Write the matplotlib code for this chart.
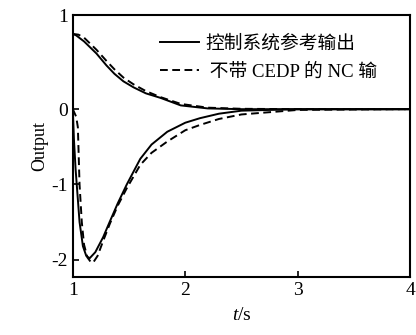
import numpy as np
import matplotlib.pyplot as plt

plt.rcParams['font.family'] = ['Liberation Serif', 'Noto Sans CJK SC']
plt.rcParams['mathtext.fontset'] = 'custom'
plt.rcParams['mathtext.it'] = 'Liberation Serif:italic'
plt.rcParams['mathtext.rm'] = 'Liberation Serif'

# upper curves (decay from 1)
t_up_ref = [1, 1.03, 1.1, 1.21, 1.3, 1.37, 1.45, 1.54, 1.65, 1.78, 1.96, 2.2, 2.5, 3, 4]
ref_up = [1.0, 0.98, 0.9, 0.74, 0.58, 0.47, 0.37, 0.29, 0.21, 0.15, 0.05, 0.01, 0, 0, 0]
t_up_nc = [1, 1.05, 1.1, 1.21, 1.3, 1.37, 1.45, 1.54, 1.65, 1.78, 1.96, 2.2, 2.5, 3, 4]
nc_up = [1.0, 0.99, 0.95, 0.79, 0.64, 0.53, 0.42, 0.33, 0.24, 0.16, 0.07, 0.02, 0.005, 0, 0]

# lower curves (undershoot to -2)
t_lo_ref = [1, 1.01, 1.025, 1.035, 1.06, 1.09, 1.12, 1.15, 1.2, 1.27, 1.33, 1.4, 1.48,
            1.6, 1.7, 1.84, 2.0, 2.13, 2.3, 2.5, 3, 4]
ref_lo = [0, -0.4, -0.8, -1.0, -1.5, -1.82, -1.95, -1.98, -1.9, -1.7, -1.49, -1.25, -1.0,
          -0.66, -0.47, -0.3, -0.18, -0.12, -0.06, -0.02, 0, 0]
t_lo_nc = [1, 1.03, 1.045, 1.06, 1.08, 1.1, 1.13, 1.16, 1.18, 1.22, 1.27, 1.33, 1.4, 1.48,
           1.6, 1.7, 1.84, 2.0, 2.13, 2.3, 2.5, 3, 4]
nc_lo = [0, -0.1, -0.24, -1.0, -1.5, -1.8, -1.97, -2.03, -2.04, -1.95, -1.75, -1.52, -1.28, -1.05,
         -0.74, -0.58, -0.43, -0.28, -0.21, -0.13, -0.07, -0.01, 0]

xticks = [1, 2, 3, 4]
yticks = [-2, -1, 0, 1.25]
yticklabels = ['-2', '-1', '0', '1']
labels = ['控制系统参考输出', ' 不带 CEDP 的 NC 输']

fig = plt.figure(figsize=(4.16, 3.35), dpi=100)
ax = fig.add_axes([0.175, 0.173, 0.811, 0.782])

dash = (0, (4, 2.3))
ax.plot(t_up_ref, ref_up, color='black', lw=1.4, label=labels[0])
ax.plot(t_up_nc, nc_up, color='black', lw=1.4, ls=dash, label=labels[1])
ax.plot(t_lo_ref, ref_lo, color='black', lw=1.4)
ax.plot(t_lo_nc, nc_lo, color='black', lw=1.4, ls=dash)

ax.set_xlim(1, 4)
ax.set_ylim(-2.23, 1.25)
ax.set_xticks(xticks)
ax.set_yticks(yticks)
ax.set_yticklabels(yticklabels)
ax.tick_params(direction='in', length=4, width=1.2, labelsize=14)
for s in ax.spines.values():
    s.set_linewidth(1.5)

ax.set_xlabel(r'$t$/s', fontsize=14, labelpad=6)
ax.set_ylabel('Output', fontsize=13, labelpad=2)

ax.legend(loc='center left', frameon=False, fontsize=13.5, handlelength=2.1,
          handletextpad=0.3, borderpad=0, borderaxespad=0, labelspacing=0.6,
          bbox_to_anchor=(160 / 416, 1 - 58 / 335), bbox_transform=fig.transFigure)

fig.savefig('out.png', dpi=100)
